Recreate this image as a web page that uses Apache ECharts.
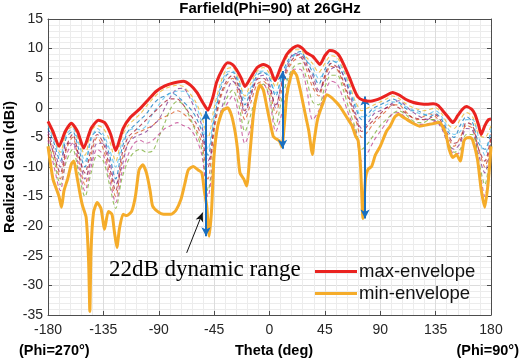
<!DOCTYPE html>
<html>
<head>
<meta charset="utf-8">
<script src="https://cdn.jsdelivr.net/npm/echarts@6/dist/echarts.min.js"></script>
<style>
  html, body { margin: 0; padding: 0; background: #fff; }
  #main { width: 526px; height: 361px; }
</style>
</head>
<body>
<div id="main"></div>
<script>
// envelopes (theta in deg, gain in dBi)
const maxTheta = [-180,-176,-171,-166,-161,-156,-151,-145,-139,-134,-129,-125,-119,-113,-105,-98,-92,-85,-78,-70,-64,-59,-54,-50,-46,-43,-38,-34,-30,-27,-23,-20,-15,-10,-5,0,4.5,9,14,19,23,27,30,35,38,41,45,49,53,57,61,65,69,72,76,82,86,90,95,100,105,111,117,122,128,133,137,142,146,149,153,157,160,164,167,170,172,175,178,180];
const maxGain = [-2.3,-4,-6.5,-4,-2.6,-4,-6.8,-3.5,-2.1,-2.5,-4.5,-7.2,-3.5,-1.6,-0.1,1.5,2.8,3.7,4.2,4.5,3.8,2.6,0.8,-0.4,1.8,4.3,6.6,7.6,7.3,6.5,5,3.6,5.2,6.8,7.3,6.8,4.6,6.8,9.0,10.1,10.5,10,9.3,8.7,8.0,7.3,8.8,9.7,9.5,8.7,7,5.1,3,1.8,1.3,1.1,1.3,1.6,2.1,2.6,2.2,1.4,0.9,0.7,0.6,0.7,0.4,-0.8,-1.8,-2.5,-1.3,-0.2,0.2,-0.2,-1.1,-3,-4.5,-3,-2,-1.9];

const minTheta = [-180,-176,-173,-171,-169,-167,-164,-161,-159,-157,-154,-152,-149,-147,-146,-145,-143,-140,-137,-134,-131,-128,-126,-124,-122,-119,-116,-112,-109,-106,-103,-100,-97,-95,-91,-86,-80,-76,-72,-69,-66,-62,-58,-55,-53,-51,-49,-47,-45,-42,-38,-34,-31,-28,-26,-24,-21,-18.5,-16,-13,-10,-7.7,-5,-2,0,3,5,8,10,12,14,17,19.4,22,25,28,30,32,34,35,36,39,43,46.5,50,54,57,61,64,67,70,72,74,76,78,80,83,86,90,95,98,102,105,108,114,122,130,138,143,146,149,152,155,158,160,163,165,169,172,175,178,180];
const minGain = [-6.5,-12,-13.8,-15,-16.8,-14,-12,-9.5,-9,-11,-14.5,-16.5,-18.5,-26,-34.4,-24,-17.7,-16,-17,-20.5,-17.5,-18,-21,-23.6,-20.5,-18,-18.2,-17.5,-15,-10.5,-9.6,-11,-14,-16.6,-17.5,-18,-18,-17.3,-15.5,-13,-10.5,-9.9,-10.5,-11,-14,-16.6,-21.7,-17,-8,-3,-0.5,0,-1.2,-4,-7,-11,-12,-13.2,-8,-1,2.5,3.9,3,0,-2,-4.8,-5.2,-5.6,-6.6,-3,2,5,6.2,5.5,3,0,-2,-4,-7,-7.9,-6,-2,0.5,2.2,1.8,1,0.3,-1,-2,-3,-4.8,-5.5,-10,-18.7,-12,-10.4,-9.9,-8,-6.5,-4,-3.1,-1.5,-1.1,-1.5,-2.3,-3.1,-2.8,-2.5,-4.2,-7,-8.4,-7.9,-9,-5.6,-5.1,-5,-5.4,-8.7,-13.8,-16.8,-12,-6.5];

// individual beam states (dashed), sampled every 5 deg
const beamTheta = [-180,-175,-170,-165,-160,-155,-150,-145,-140,-135,-130,-125,-120,-115,-110,-105,-100,-95,-90,-85,-80,-75,-70,-65,-60,-55,-50,-45,-40,-35,-30,-25,-20,-15,-10,-5,0,5,10,15,20,25,30,35,40,45,50,55,60,65,70,75,80,85,90,95,100,105,110,115,120,125,130,135,140,145,150,155,160,165,170,175,180];
const beam1 = [-3.5,-6,-9,-5,-4,-7,-10,-5,-4,-5,-8,-12,-7,-4,-3,-2,-1,0.5,1.5,2,2.5,2,1,0,-1.5,-4,-8,-2,3,5.5,6,4,0.5,3,5.5,6,5,2,5.5,8,9,9.5,8,6,4,6.5,8,7.5,5.5,3,0,-2,-1,0,0.5,1,1.5,1,0,-0.5,-0.5,-1,-1.5,-1,-2,-4,-5,-3,-1.5,-2.5,-6,-7,-4];
const beam2 = [-5,-8,-12,-7,-5,-9,-13,-8,-5,-7,-11,-15,-9,-6,-4.5,-4,-3.5,-3,-2,-1.5,-1,-0.5,-1,-2,-3.5,-6,-12,-4,1.5,4,5,2,-2,1,4,4.5,3,-1,3,6.5,8,8.5,6.5,3.5,2,5,7,6.5,4,1,-2,-5,-4,-2.5,-1.5,-0.5,0.5,0.5,-0.5,-1.5,-2,-1.5,-1,-1.5,-3,-5,-6.5,-5,-3,-3.5,-7,-10,-5];
const beam3 = [-2.8,-5,-7.5,-4,-3.2,-5.5,-8,-4,-3,-3.5,-5.5,-9,-5,-3,-2,-1,0.3,1.5,2.5,3.2,3.6,3.8,3.6,2.5,1,-1.5,-5,0,4,6.5,6.8,4.8,2,4.2,6.2,6.8,5.8,3.5,6.5,8.8,9.8,9.8,8.5,7.5,6,7.5,8.8,8.5,6.5,4,1,-0.5,0,0.5,1,1.5,2,1.6,0.8,0.2,-0.2,-0.5,-0.3,0,-1,-2.8,-3.5,-2,-0.8,-1.5,-4.5,-5,-3];
const beam4 = [-4,-7,-10,-6,-6,-8,-12,-9,-6,-6,-9,-13,-10,-6,-5,-4.5,-4,-3,-2,0,2,3.2,3.3,1.8,-0.5,-3,-9,-6,-1,2.5,4.5,3,-1,2,5,5.5,4,0,4.5,7.5,9.2,8.8,7,5.5,3,4.5,6.5,7,5.5,2.5,-1,-3.5,-2.5,-1,-0.5,0,0.8,1.2,0.5,-0.5,-1.2,-1.8,-2,-2.2,-3.5,-6,-7,-6,-3.5,-3.8,-8,-11,-5.5];
const beam5 = [-6,-9,-13,-9,-7,-11,-15,-11,-8,-9,-13,-17,-12,-9,-7.5,-7,-7.5,-7.3,-5,-2.5,0,1.1,0.5,-1.5,-4,-7,-14,-7,-1.5,1.5,3,0.5,-4,-1,2.5,4,2,-3,1.5,5,7,7.5,5,1,0.5,3.5,5.5,5.5,3,-0.5,-3.5,-7,-6,-4.5,-3,-2,-1,-0.5,-1,-2,-2.5,-2.5,-2,-2,-3,-5.5,-7.5,-7,-4.5,-4.5,-9,-13,-6];
const beam6 = [-3,-5.5,-8,-4.5,-3.5,-6,-9,-5.5,-3.5,-4.5,-7,-10,-6,-4,-3.5,-3.7,-3,-1,0.5,1.8,2.5,2.8,2.8,2,0.5,-2.5,-7,-1,3.5,6,6.2,4.5,1.5,3.5,6,6.2,5.2,2.5,5,7.5,8.8,9.2,8,6.8,5,6,7.5,7.8,6.2,3.5,0.5,-1.5,-1.5,-0.5,0,0.5,1,0.8,0.3,-0.2,-0.8,-1.2,-1,-0.5,-1.5,-3.5,-4.5,-4,-2,-2,-5,-8,-3.5];
const beam7 = [-4.5,-8,-11,-6.5,-4.5,-8,-11,-7,-4.5,-6,-10,-14,-8,-5,-4,-3,-2,-1,0,1,1.5,1.5,0.5,-1,-2.5,-5,-10,-3,2,4.5,5.5,3.5,-0.5,2.5,4.8,5,3.5,0.5,4,7,8.5,9,7.5,4.5,2.5,5.5,7.5,6.8,4.5,1.5,-1.5,-4,-3,-2,-1,0,0.5,0,-0.8,-1.5,-1.8,-2,-1.8,-1.2,-2.5,-4.5,-6,-5.5,-2.5,-3,-7,-9,-4.5];
const beam8 = [-5.5,-10,-14,-8,-6,-10,-14,-10,-7,-8,-12,-16,-11,-8,-6,-5.5,-6,-5.5,-4.5,-3.5,-3,-2.5,-3,-3.5,-5,-8,-15,-7.5,-1,0.5,2,-1,-6,-3,3,4,1.5,-4,-1,4,6.5,6.5,3.5,-2,-0.5,2.5,4.5,4,1.5,-1.5,-4,-9,-7.5,-5.5,-4,-2.5,-1,-0.8,-1.5,-2.2,-2.8,-2.8,-2.6,-2.3,-3.3,-5.8,-7.8,-7.5,-5,-5.3,-9.5,-15,-6.2];
const beams = [beam1, beam2, beam3, beam4, beam5, beam6, beam7, beam8];
const beamColors = ['#0072BD','#D95319','#EDB120','#7E2F8E','#77AC30','#4DBEEE','#A2142F','#c03c8c'];

// dynamic-range arrows [theta, top, bottom]
const rangeArrows = [[-51.6, -0.6, -21.7], [10.6, 6.2, -6.9], [77.6, 1.9, -18.7]];
// pointer from label to first arrow [theta, gain]
const pointerTail = [-67.3, -24.5];
const pointerHead = [-54.3, -17.7];

const chart = echarts.init(document.getElementById('main'));
const font = 'Arial, "Liberation Sans", sans-serif';
const boxColor = '#4d4d4d';

const pairs = (xs, ys) => xs.map((t, i) => [t, ys[i]]);

const series = beams.map((b, k) => ({
  name: 'beam ' + (k + 1),
  type: 'line',
  data: pairs(beamTheta, b),
  showSymbol: false,
  smooth: 0.3,
  silent: true,
  z: 2,
  lineStyle: { color: beamColors[k], width: 1.1, type: [4, 3], opacity: 0.75 }
}));

series.push({
  name: 'min-envelope',
  type: 'line',
  data: pairs(minTheta, minGain),
  showSymbol: false,
  smooth: 0.2,
  z: 4,
  color: '#f5ac2a',
  lineStyle: { color: '#f5ac2a', width: 3 }
});
series.push({
  name: 'max-envelope',
  type: 'line',
  data: pairs(maxTheta, maxGain),
  showSymbol: false,
  smooth: 0.2,
  z: 5,
  color: '#ea2320',
  lineStyle: { color: '#ea2320', width: 3 }
});
series.push({
  name: 'arrows',
  type: 'line',
  data: [],
  z: 8,
  markLine: {
    silent: true,
    animation: false,
    label: { show: false },
    data: rangeArrows.map(a => ([
      { coord: [a[0], a[1]], symbol: 'arrow', symbolSize: [7, 9], lineStyle: { color: '#1a6fc0', width: 2, type: 'solid' } },
      { coord: [a[0], a[2]], symbol: 'arrow', symbolSize: [7, 9] }
    ])).concat([[
      { coord: pointerTail, symbol: 'none', lineStyle: { color: '#111', width: 1, type: 'solid' } },
      { coord: pointerHead, symbol: 'arrow', symbolSize: [6, 9] }
    ]])
  }
});

const tickStyle = { show: true, inside: true, length: 4, lineStyle: { color: boxColor } };
const lineStyleAxis = { show: true, onZero: false, lineStyle: { color: boxColor, width: 1 } };

chart.setOption({
  animation: false,
  grid: { left: 48, right: 35, top: 19, bottom: 46 },
  legend: {
    data: ['max-envelope', 'min-envelope'],
    orient: 'vertical',
    left: 310,
    top: 257,
    icon: 'rect',
    itemWidth: 42,
    itemHeight: 3,
    itemGap: 3,
    textStyle: { fontFamily: font, fontSize: 18.5, color: '#111', padding: [0, 0, 0, -3] }
  },
  xAxis: [{
    type: 'value', min: -180, max: 180, interval: 45,
    axisLine: lineStyleAxis,
    axisTick: tickStyle,
    axisLabel: { fontFamily: font, fontSize: 14, color: '#262626', margin: 8 },
    splitLine: { show: true, lineStyle: { color: '#dcdcdc', width: 1 } },
    minorTick: { show: false, splitNumber: 5 },
    minorSplitLine: { show: true, lineStyle: { color: '#ececec', width: 1 } }
  }, {
    type: 'value', position: 'top', min: -180, max: 180, interval: 45,
    axisLine: lineStyleAxis, axisTick: tickStyle,
    axisLabel: { show: false }, splitLine: { show: false }
  }],
  yAxis: [{
    type: 'value', min: -35, max: 15, interval: 5,
    axisLine: lineStyleAxis,
    axisTick: tickStyle,
    axisLabel: { fontFamily: font, fontSize: 14, color: '#262626', margin: 5 },
    splitLine: { show: true, lineStyle: { color: '#dcdcdc', width: 1 } },
    minorTick: { show: false, splitNumber: 5 },
    minorSplitLine: { show: true, lineStyle: { color: '#ececec', width: 1 } }
  }, {
    type: 'value', position: 'right', min: -35, max: 15, interval: 5,
    axisLine: lineStyleAxis, axisTick: tickStyle,
    axisLabel: { show: false }, splitLine: { show: false }
  }],
  graphic: [
    { type: 'text', x: 270, y: 9, style: { text: 'Farfield(Phi=90) at 26GHz', font: 'bold 15px ' + font, fill: '#000', align: 'center', verticalAlign: 'middle' } },
    { type: 'text', x: 10, y: 167, rotation: Math.PI / 2, style: { text: 'Realized Gain (dBi)', font: 'bold 14.5px ' + font, fill: '#000', align: 'center', verticalAlign: 'middle' } },
    { type: 'text', x: 274, y: 351, style: { text: 'Theta (deg)', font: 'bold 14.5px ' + font, fill: '#000', align: 'center', verticalAlign: 'middle' } },
    { type: 'text', x: 19, y: 351, style: { text: '(Phi=270°)', font: 'bold 14.5px ' + font, fill: '#000', align: 'left', verticalAlign: 'middle' } },
    { type: 'text', x: 519, y: 351, style: { text: '(Phi=90°)', font: 'bold 14.5px ' + font, fill: '#000', align: 'right', verticalAlign: 'middle' } },
    { type: 'text', x: 109, y: 270, z: 20, style: { text: '22dB dynamic range', font: '23px "Liberation Serif", "Times New Roman", serif', fill: '#000', align: 'left', verticalAlign: 'middle' } }
  ],
  series: series
});
</script>
</body>
</html>
